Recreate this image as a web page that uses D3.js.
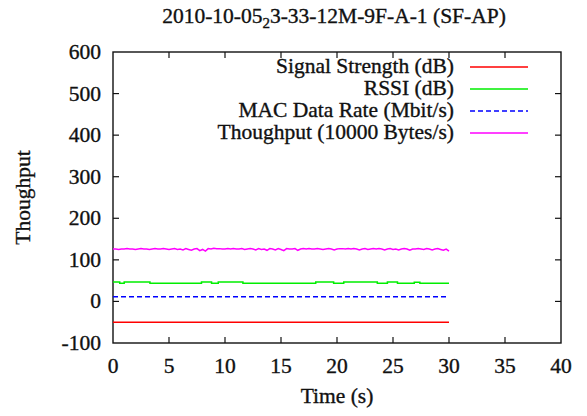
<!DOCTYPE html>
<html><head><meta charset="utf-8">
<script src="https://cdn.jsdelivr.net/npm/d3@7"></script>
<style>body{margin:0;background:#fff}svg text{font-family:"Liberation Serif","DejaVu Serif",serif;fill:#111;stroke:#111;stroke-width:0.35px}</style>
</head><body><svg id="c" width="587" height="416"></svg>
<script>
const xTicks=[0,5,10,15,20,25,30,35,40];
const yTicks=[-100,0,100,200,300,400,500,600];
const seriesNames=["Signal Strength (dB)","RSSI (dB)","MAC Data Rate (Mbit/s)","Thoughput (10000 Bytes/s)"];
const seriesColors=["#ff0000","#00ee00","#0000ff","#ff00ff"];
const signalT=[0,30], signalV=[-50,-50];
const rssiT=[0,0.5,0.6,0.9,1.0,1.4,1.5,3.2,3.3,7.8,7.9,8.7,8.8,9.3,9.4,11.5,11.6,18.0,18.1,19.6,19.7,20.5,20.6,23.5,23.6,24.4,24.5,25.3,25.4,26.8,26.9,27.3,27.4,30];
const rssiV=[47,47,44,44,47,47,47,47,44,44,47,47,44,44,47,47,44,44,47,47,44,44,47,47,44,44,47,47,44,44,46,46,44,44];
const macT=[0,30], macV=[11,11];
// throughput sampled every 0.25 s from 0 to 30 s
const thrStep=0.25;
const thrV=[
126,126,125,126, 126,127,126,126, 125,126,127,126, 126,125,126,127, 126,126,127,126,
125,126,127,125, 126,124,127,125, 123,126,127,122, 125,121,127,126, 128,127,127,126,
126,127,126,127, 126,126,127,125, 126,127,126,124, 127,125,126,123, 127,126,124,127,
125,122,127,126, 126,127,123,126, 127,126,127,126, 126,127,126,125, 126,127,126,124,
126,127,127,126, 127,126,127,126, 124,126,127,125, 126,127,126,127, 126,124,126,127,
125,126,124,126, 127,126,123,126, 126,127,126,125, 127,126,124,126, 127,125,123,126,
121];

const svg=d3.select("#c");
const L=113,R=561,T=52,B=343;
const FS=21.5;
const x=d3.scaleLinear().domain([0,40]).range([L,R]);
const y=d3.scaleLinear().domain([-100,600]).range([B,T]);

svg.append("rect").attr("x",L).attr("y",T).attr("width",R-L).attr("height",B-T).attr("fill","none").attr("stroke","#111").attr("stroke-width",1.4);
const tl=6;
const g=svg.append("g").attr("stroke","#111").attr("stroke-width",1.2);
xTicks.forEach(t=>{
  if(t>0&&t<40){
  g.append("line").attr("x1",x(t)).attr("x2",x(t)).attr("y1",B).attr("y2",B-tl);
  g.append("line").attr("x1",x(t)).attr("x2",x(t)).attr("y1",T).attr("y2",T+tl);}
});
yTicks.forEach(t=>{
  if(t>-100&&t<600){
  g.append("line").attr("x1",L).attr("x2",L+tl).attr("y1",y(t)).attr("y2",y(t));
  g.append("line").attr("x1",R).attr("x2",R-tl).attr("y1",y(t)).attr("y2",y(t));}
});
svg.selectAll(".xt").data(xTicks).enter().append("text").attr("x",d=>x(d)).attr("y",373).attr("text-anchor","middle").attr("font-size",FS).text(d=>d);
svg.selectAll(".yt").data(yTicks).enter().append("text").attr("x",101).attr("y",d=>y(d)+7).attr("text-anchor","end").attr("font-size",FS).text(d=>d);

svg.append("text").attr("x",337).attr("y",403).attr("text-anchor","middle").attr("font-size",FS).text("Time (s)");
svg.append("text").attr("transform","translate(30,197.5) rotate(-90)").attr("text-anchor","middle").attr("font-size",FS).text("Thoughput");
const title=svg.append("text").attr("x",334).attr("y",23).attr("text-anchor","middle").attr("font-size",FS);
title.append("tspan").text("2010-10-05");
title.append("tspan").attr("font-size",15).attr("dy",5).text("2");
title.append("tspan").attr("dy",-5).text("3-33-12M-9F-A-1 (SF-AP)");

const line=d3.line().x(d=>x(d[0])).y(d=>y(d[1]));
const data=[
  d3.zip(signalT,signalV),
  d3.zip(rssiT,rssiV),
  d3.zip(macT,macV),
  thrV.map((v,i)=>[i*thrStep,v])
];
const curves=[d3.curveLinear,d3.curveStepAfter,d3.curveLinear,d3.curveLinear];
data.forEach((d,i)=>{
  svg.append("path").attr("d",line.curve(curves[i])(d)).attr("fill","none")
    .attr("stroke",seriesColors[i]).attr("stroke-width",1.5)
    .attr("stroke-dasharray",i===2?"5,3":null);
});

seriesNames.forEach((n,i)=>{
  const yy=67+i*22;
  svg.append("text").attr("x",454).attr("y",yy+6).attr("text-anchor","end").attr("font-size",FS).text(n);
  svg.append("line").attr("x1",470).attr("x2",528).attr("y1",yy).attr("y2",yy)
    .attr("stroke",seriesColors[i]).attr("stroke-width",1.5).attr("stroke-dasharray",i===2?"5,3":null);
});
</script></body></html>
